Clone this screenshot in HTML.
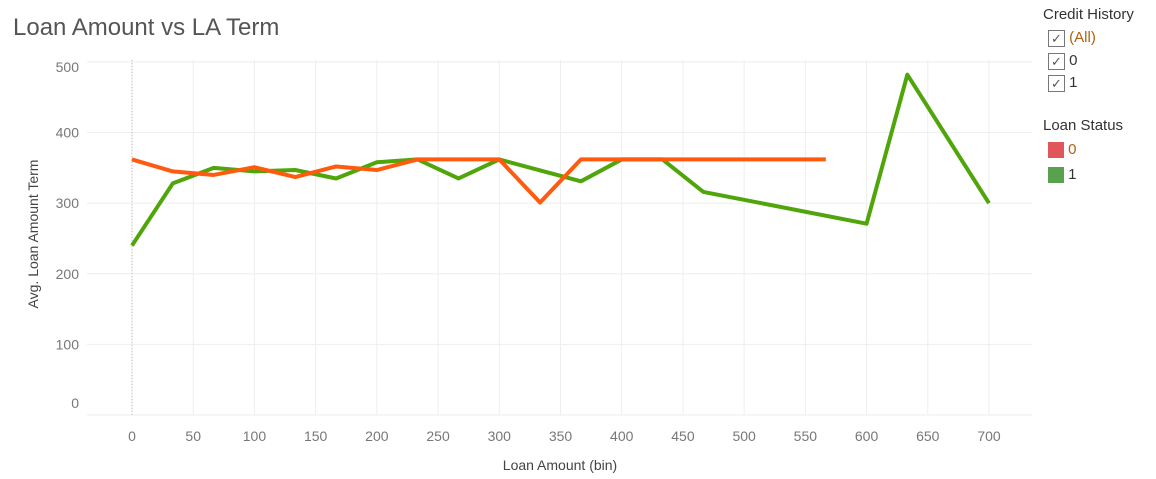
<!DOCTYPE html>
<html><head><meta charset="utf-8"><style>
body{margin:0;width:1156px;height:479px;background:#fff;font-family:"Liberation Sans",sans-serif;overflow:hidden;position:relative}
.t{position:absolute}
.row{position:absolute;left:5px;white-space:nowrap}
.cb{display:inline-block;width:15px;height:15px;border:1px solid #777;font-size:13px;line-height:15px;text-align:center;color:#555;vertical-align:middle}
.sw{display:inline-block;width:16px;height:16px;vertical-align:middle}
</style></head><body>
<div class="t" style="left:13px;top:14px;font-size:24px;color:#555">Loan Amount vs LA Term</div>
<svg id="c" width="1156" height="479" style="position:absolute;left:0;top:0"></svg>
<div style="position:absolute;left:1043px;top:0;width:113px;height:200px;font-size:15px;color:#333">
<div style="position:absolute;left:0;top:6px">Credit History</div>
<div class="row" style="top:29px"><span class="cb">✓</span> <span style="color:#b06010">(All)</span></div>
<div class="row" style="top:52px"><span class="cb">✓</span> <span>0</span></div>
<div class="row" style="top:74px"><span class="cb">✓</span> <span>1</span></div>
<div style="position:absolute;left:0;top:117px">Loan Status</div>
<div class="row" style="top:141px"><span class="sw" style="background:#e15759"></span> <span style="color:#b06010">0</span></div>
<div class="row" style="top:166px"><span class="sw" style="background:#59a14f"></span> <span>1</span></div>
</div>
<script>
const xTicks=[0,50,100,150,200,250,300,350,400,450,500,550,600,650,700];
const yTicks=[0,100,200,300,400,500];
const greenX=[0,33.3,66.7,100,133.3,166.7,200,233.3,266.7,300,366.7,400,433.3,466.7,600,633.3,700];
const greenY=[240,328,350,345,347,335,358,362,335,362,331,362,362,316,271,482,300];
const orangeX=[0,33.3,66.7,100,133.3,166.7,200,233.3,266.7,300,333.3,366.7,400,433.3,466.7,500,533.3,566.7];
const orangeY=[362,345,340,351,337,352,347,362,362,362,301,362,362,362,362,362,362,362];
const svg=document.getElementById('c');const NS='http://www.w3.org/2000/svg';
const X=v=>132+v*1.2243, Y=v=>415-v*0.706;
function mk(t,a){const e=document.createElementNS(NS,t);for(const k in a)e.setAttribute(k,a[k]);svg.appendChild(e);return e;}
xTicks.forEach(v=>{const l=mk('line',{x1:X(v),x2:X(v),y1:60,y2:415,stroke:'#eee'});


const t=mk('text',{x:X(v),y:441,'text-anchor':'middle','font-size':14,fill:'#777','font-family':'Liberation Sans'});t.textContent=v;

});
yTicks.forEach(v=>{const l=mk('line',{x1:87,x2:1032,y1:Y(v),y2:Y(v),stroke:'#eee'});


let yy=Y(v)+5; if(v==500)yy=Y(v)+10; if(v==0)yy=Y(v)-7;
const t=mk('text',{x:79,y:yy,'text-anchor':'end','font-size':14,fill:'#777','font-family':'Liberation Sans'});t.textContent=v;

});
const z=mk('line',{x1:X(0),x2:X(0),y1:60,y2:415,stroke:'#bbb','stroke-dasharray':'1,2'});


function line(xs,ys,c,n){const p=mk('polyline',{points:xs.map((x,i)=>X(x)+','+Y(ys[i])).join(' '),fill:'none',stroke:c,'stroke-width':4,'stroke-linejoin':'round'});

}
line(greenX,greenY,'#4fa50a','series-status-1');
line(orangeX,orangeY,'#ff5a0e','series-status-0');
const xt=mk('text',{x:560,y:470,'text-anchor':'middle','font-size':14,fill:'#444','font-family':'Liberation Sans'});xt.textContent='Loan Amount (bin)';


const yt=mk('text',{x:38,y:234,'text-anchor':'middle','font-size':14,fill:'#444','font-family':'Liberation Sans',transform:'rotate(-90 38 234)'});yt.textContent='Avg. Loan Amount Term';


</script>
</body></html>
